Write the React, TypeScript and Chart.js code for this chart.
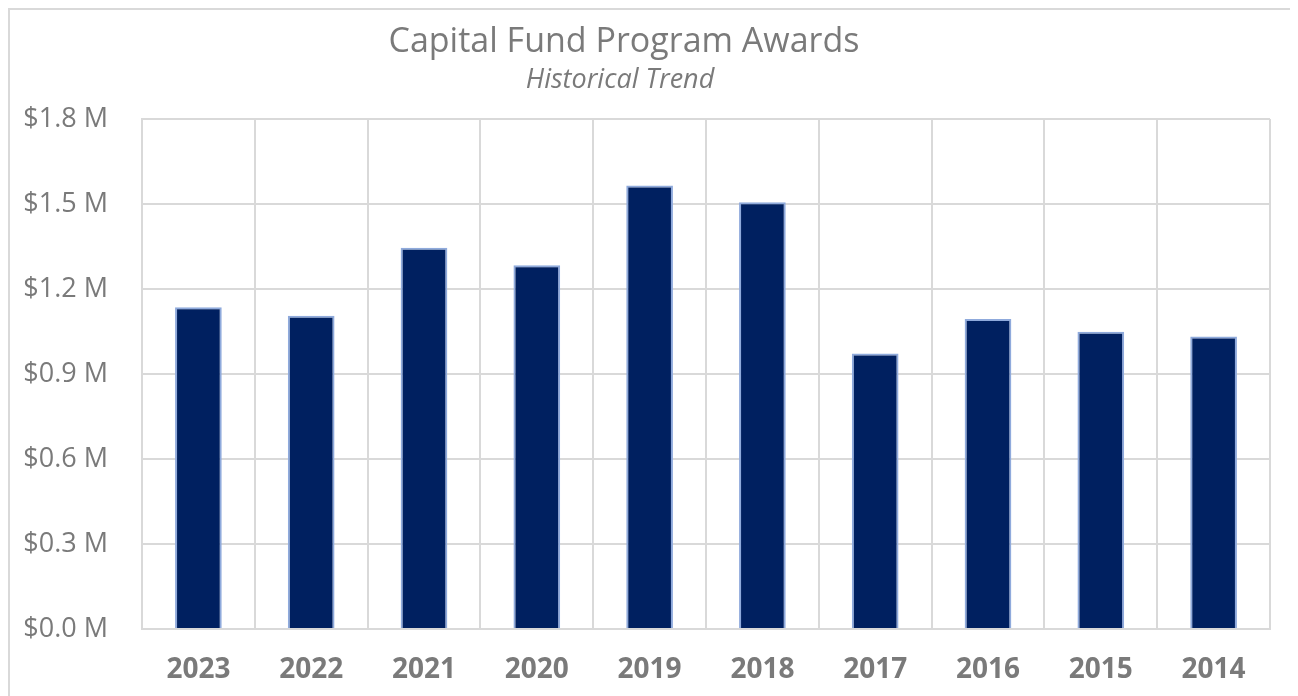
import React, { useEffect, useRef } from "react";
import { Chart, registerables } from "chart.js";

Chart.register(...registerables);

// ---- data ----
const categories: string[] = ["2023", "2022", "2021", "2020", "2019", "2018", "2017", "2016", "2015", "2014"];
const awardsMillions: number[] = [1.136, 1.106, 1.346, 1.284, 1.565, 1.506, 0.972, 1.094, 1.049, 1.032];
const yTickValues: number[] = [0, 0.3, 0.6, 0.9, 1.2, 1.5, 1.8];
const titleText = "Capital Fund Program Awards";
const subtitleText = "Historical Trend";

const TEXT_GRAY = "#7a7a7a";
const GRID_GRAY = "#d9d9d9";
const FONT = "'Open Sans', 'Noto Sans', sans-serif";

const titlePlugin = {
  id: "customTitle",
  afterDraw(chart: any) {
    const ctx = chart.ctx as CanvasRenderingContext2D;
    ctx.save();
    ctx.fillStyle = TEXT_GRAY;
    ctx.textAlign = "center";
    ctx.textBaseline = "alphabetic";
    ctx.font = `400 34px ${FONT}`;
    ctx.fillText(titleText, 614, 42);
    ctx.font = `italic 400 27px ${FONT}`;
    ctx.fillText(subtitleText, 610, 78);
    ctx.restore();
  },
};

export default function App() {
  const canvasRef = useRef<HTMLCanvasElement | null>(null);

  useEffect(() => {
    document.documentElement.style.overflow = "hidden";
    document.body.style.overflow = "hidden";
    const canvas = canvasRef.current;
    if (!canvas) return;
    const chart = new Chart(canvas, {
      type: "bar",
      data: {
        labels: categories,
        datasets: [
          {
            label: "Awards",
            data: awardsMillions,
            backgroundColor: "#002060",
            borderColor: "#8faadc",
            borderWidth: 2,
            categoryPercentage: 1,
            barPercentage: 0.414,
          },
        ],
      },
      options: {
        animation: false,
        responsive: true,
        maintainAspectRatio: false,
        layout: { padding: { top: 109, right: 28, left: 0, bottom: 0 } },
        plugins: {
          legend: { display: false },
          title: { display: false },
          tooltip: { enabled: false },
        },
        scales: {
          x: {
            afterFit(scale: any) {
              scale.height = 67;
            },
            grid: {
              display: true,
              color: GRID_GRAY,
              lineWidth: 2,
              drawTicks: false,
              offset: true,
            },
            border: { display: true, color: GRID_GRAY, width: 2 },
            ticks: {
              color: TEXT_GRAY,
              padding: 24,
              font: { family: FONT, size: 28, weight: "bold" },
              maxRotation: 0,
            },
          },
          y: {
            min: 0,
            max: 1.8,
            afterFit(scale: any) {
              scale.width = 132;
            },
            afterBuildTicks(scale: any) {
              scale.ticks = yTickValues.map((v) => ({ value: v }));
            },
            grid: {
              color: GRID_GRAY,
              lineWidth: 2,
              drawTicks: false,
            },
            border: { display: true, color: GRID_GRAY, width: 2 },
            ticks: {
              color: TEXT_GRAY,
              padding: 34,
              font: { family: FONT, size: 27 },
              callback: (v: any) => `$${Number(v).toFixed(1)} M`,
            },
          },
        },
      },
      plugins: [titlePlugin],
    });
    return () => chart.destroy();
  }, []);

  return (
    <div
      style={{
        width: 1290,
        height: 688,
        boxSizing: "border-box",
        borderLeft: `2px solid ${GRID_GRAY}`,
        borderTop: `2px solid ${GRID_GRAY}`,
        background: "#ffffff",
      }}
    >
      <div style={{ position: "relative", width: 1288, height: 686 }}>
        <canvas ref={canvasRef} />
      </div>
    </div>
  );
}
